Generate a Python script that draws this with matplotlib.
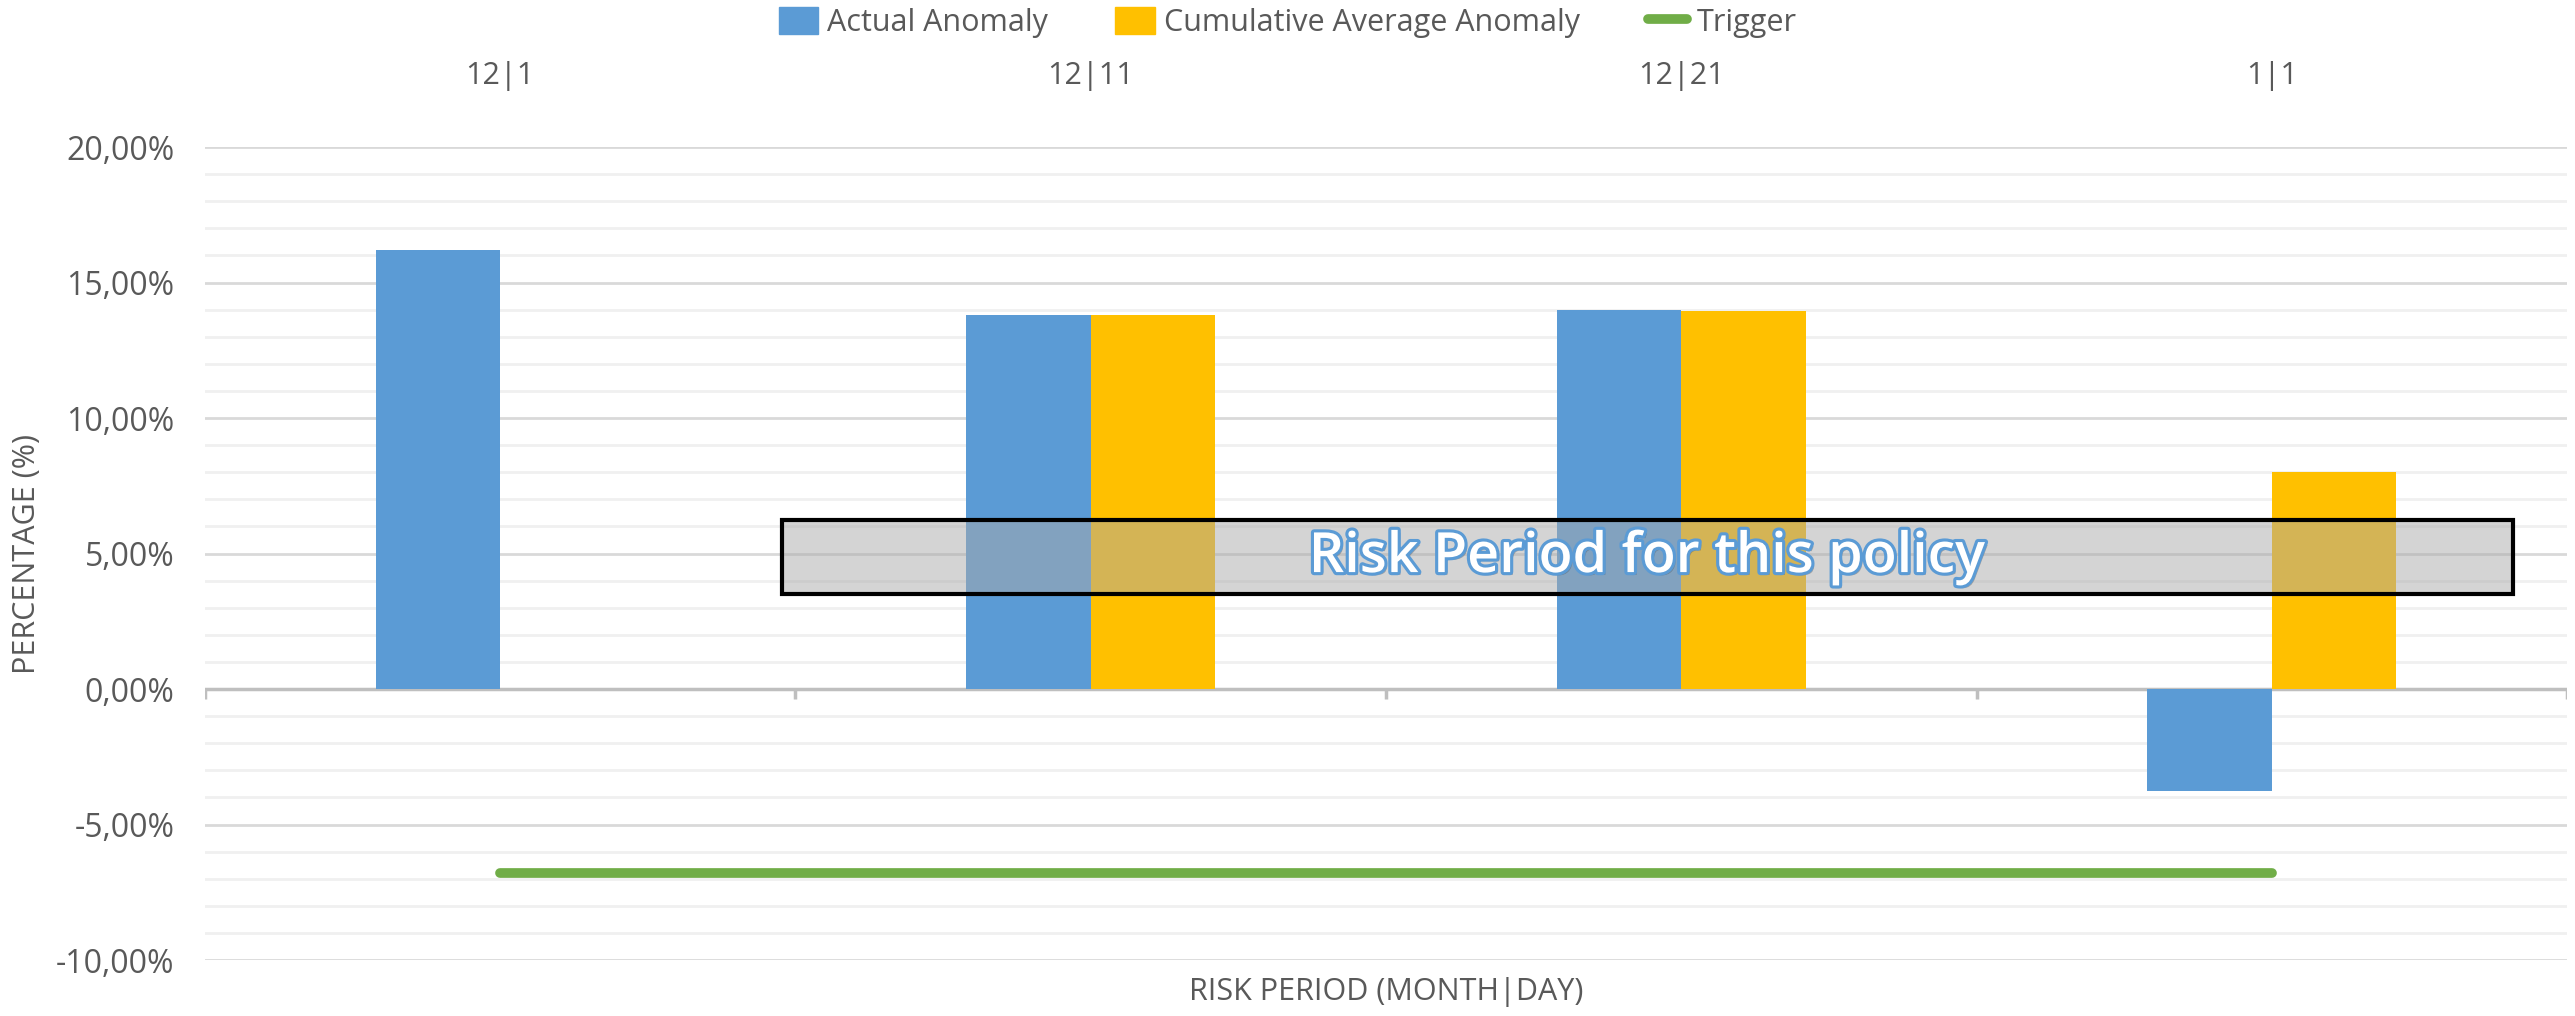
import matplotlib
matplotlib.use('Agg')
from matplotlib import pyplot as plt
from matplotlib.patches import Patch, Rectangle
from matplotlib.lines import Line2D
from matplotlib.ticker import MultipleLocator, FuncFormatter
import matplotlib.patheffects as pe
import numpy as np

# Данные
periods = ['12|1', '12|11', '12|21', '1|1']
actual_anomaly = [16.2, 13.8, 14.0, -3.75]
cumulative_avg = [None, 13.8, 13.95, 8.0]
trigger = [-6.8, -6.8, -6.8, -6.8]

BLUE = '#5B9BD5'
YELLOW = '#FFC000'
GREEN = '#70AD47'
TEXT = '#595959'

plt.rcParams['font.family'] = ['Open Sans', 'DejaVu Sans']


def pct(v, _):
    return f'{v:.2f}%'.replace('.', ',')


def draw_chart():
    fig = plt.figure(figsize=(25.75, 10.16), dpi=100)
    ax = fig.add_axes([0.0796, 0.0551, 0.9173, 0.8002])

    xs = np.arange(len(periods))
    w = 0.211
    ax.bar(xs - w / 2, actual_anomaly, w, color=BLUE, zorder=3)
    cum_x = [x for x, v in zip(xs, cumulative_avg) if v is not None]
    cum_v = [v for v in cumulative_avg if v is not None]
    ax.bar(np.array(cum_x) + w / 2, cum_v, w, color=YELLOW, zorder=3)
    ax.plot(xs, trigger, color=GREEN, lw=7, solid_capstyle='round', zorder=4)

    ax.set_xlim(-0.5, 3.5)
    ax.set_ylim(-10, 20)
    ax.yaxis.set_major_locator(MultipleLocator(5))
    ax.yaxis.set_minor_locator(MultipleLocator(1))
    ax.yaxis.set_major_formatter(FuncFormatter(pct))
    ax.grid(which='major', axis='y', color='#d9d9d9', lw=2, zorder=0)
    ax.grid(which='minor', axis='y', color='#f0f0f0', lw=2, zorder=0)
    for s in ax.spines.values():
        s.set_visible(False)
    ax.tick_params(axis='y', which='both', length=0, labelsize=23,
                   labelcolor=TEXT, pad=22)

    # категории сверху
    ax.xaxis.tick_top()
    ax.set_xticks(xs)
    ax.set_xticklabels(periods)
    ax.tick_params(axis='x', length=0, labelsize=22, labelcolor=TEXT, pad=40)

    # ось на нуле с делениями между категориями
    ax.axhline(0, color='#bfbfbf', lw=2.5, zorder=2)
    bounds = np.arange(-0.5, 4.0, 1.0)
    ax.vlines(bounds, -0.38, 0, color='#bfbfbf', lw=2.5, zorder=2)

    ax.set_ylabel('PERCENTAGE (%)', fontsize=22, color=TEXT, labelpad=10)
    ax.set_xlabel('RISK PERIOD (MONTH|DAY)', fontsize=22, color=TEXT)
    ax.xaxis.set_label_position('bottom')
    ax.xaxis.labelpad = 12

    # период риска
    ax.add_patch(Rectangle((0.478, 3.5), 2.93, 2.75, facecolor='#aaaaaa',
                           alpha=0.5, edgecolor='none', zorder=5))
    ax.add_patch(Rectangle((0.478, 3.5), 2.93, 2.75, facecolor='none',
                           edgecolor='black', lw=3, zorder=6))
    ax.text(1.94, 4.85, 'Risk Period for this policy', fontsize=40,
            fontweight='semibold', color='white', ha='center', va='center',
            zorder=7,
            path_effects=[pe.withSimplePatchShadow(offset=(2, -2),
                                                   shadow_rgbFace='#555555',
                                                   alpha=0.4),
                          pe.Stroke(linewidth=4.5, foreground=BLUE),
                          pe.Normal()])

    handles = [Patch(color=BLUE, label='Actual Anomaly'),
               Patch(color=YELLOW, label='Cumulative Average Anomaly'),
               Line2D([], [], color=GREEN, lw=7, solid_capstyle='round',
                      label='Trigger')]
    fig.legend(handles=handles, loc='center', bbox_to_anchor=(0.5, 0.978),
               ncol=3, frameon=False, fontsize=22, labelcolor=TEXT,
               handlelength=1.3, handleheight=1.0, handletextpad=0.3,
               columnspacing=2.2)

    fig.savefig('out.png', dpi=100)


def main():
    draw_chart()


if __name__ == '__main__':
    main()
